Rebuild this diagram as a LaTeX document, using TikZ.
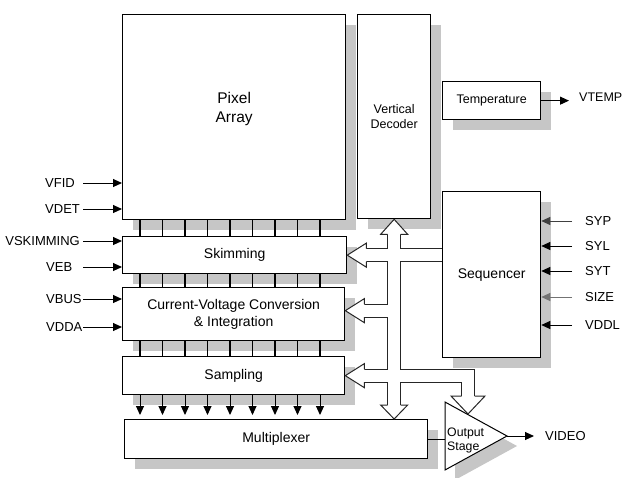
\documentclass[tikz,border=0pt]{standalone}
\usepackage{fontspec}
\setmainfont{Liberation Sans}
\usetikzlibrary{positioning, calc, arrows.meta, shadows}
\tikzset{
  blk/.style={draw, line width=1.3pt, fill=white, anchor=north west, align=center,
    inner sep=0pt, font=\fontsize{14}{17}\selectfont,
    general shadow={fill=gray!45, shadow xshift=10pt, shadow yshift=-10pt}},
  lbl/.style={inner sep=0pt, font=\fontsize{13}{15}\selectfont},
  sig/.style={line width=1pt, -{Triangle[length=9pt,width=8pt]}},
  tie/.style={line width=1.1pt},
  hollow/.style={fill=white, draw=black!85, line width=1pt},
}

\begin{document}
\begin{tikzpicture}[x=1pt, y=-1pt]
            \useasboundingbox (0,0) rectangle (624,477);

            % Blocks
            \node[blk, minimum width=223pt, minimum height=205pt, font=\fontsize{15.5}{19}\selectfont] (pixel) at (122,14) {Pixel\\Array\\~};
            \node[blk, minimum width=73pt, minimum height=204pt, font=\fontsize{12.5}{15}\selectfont] (vdec) at (357,14) {Vertical\\Decoder};
            \node[blk, minimum width=98pt, minimum height=38pt, font=\fontsize{12.5}{15}\selectfont] (temp) at (442,81) {Temperature};
            \node[blk, minimum width=98pt, minimum height=166pt] (seq) at (442,191) {Sequencer};
            \node[blk, minimum width=224pt, minimum height=37pt] (skim) at (122,236) {Skimming};
            \node[blk, minimum width=222pt, minimum height=53pt] (cvc) at (122,287) {Current-Voltage Conversion\\\& Integration};
            \node[blk, minimum width=222pt, minimum height=38pt] (samp) at (122,356) {Sampling};
            \node[blk, minimum width=303pt, minimum height=39pt] (mux) at (124,419) {Multiplexer};

            % Output Stage
            \coordinate (os-nw) at (445,402);
            \coordinate (os-sw) at (445,470);
            \coordinate (os-tip) at (507,436);
            \fill[gray!45] ($(os-nw)+(10,10)$) -- ($(os-sw)+(10,10)$) -- ($(os-tip)+(10,10)$) -- cycle;
            \filldraw[fill=white, line width=1pt] (os-nw) -- (os-sw) -- (os-tip) -- cycle;
            \node[anchor=west, align=left, inner sep=0pt, font=\fontsize{12.3}{14}\selectfont] (ostxt) at (447,440) {Output\\Stage};
            \draw[tie] (mux.east) -- (mux.east -| os-nw);

            % Column lines between blocks
            \foreach \i [evaluate=\i as \x using 140+22.5*\i] in {0,...,8} {
                \draw[tie] (\x,0 |- pixel.south) -- (\x,0 |- skim.north);
                \draw[tie] (\x,0 |- skim.south) -- (\x,0 |- cvc.north);
                \draw[tie] (\x,0 |- cvc.south) -- (\x,0 |- samp.north);
                \draw[sig, shorten >=4pt] (\x,0 |- samp.south) -- (\x,0 |- mux.north);
            }

            % Left inputs
            \coordinate (lin) at (83,0);
            \node[lbl, anchor=west] (vfid) at (45,183) {VFID};
            \node[lbl, anchor=west] (vdet) at (45,209) {VDET};
            \node[lbl, anchor=east] (vskim) at (80,241) {VSKIMMING};
            \node[lbl, anchor=west] (veb) at (46,267) {VEB};
            \node[lbl, anchor=west] (vbus) at (46,299) {VBUS};
            \node[lbl, anchor=west] (vdda) at (46,327) {VDDA};
            \draw[sig] (vfid -| lin) -- (vfid -| pixel.west);
            \draw[sig] (vdet -| lin) -- (vdet -| pixel.west);
            \draw[sig] (vskim -| lin) -- (vskim -| skim.west);
            \draw[sig] (veb -| lin) -- (veb -| skim.west);
            \draw[sig] (vbus -| lin) -- (vbus -| cvc.west);
            \draw[sig] (vdda -| lin) -- (vdda -| cvc.west);

            % Sequencer inputs
            \coordinate (rin) at (572,0);
            \node[lbl, anchor=west] (syp) at (585,221) {SYP};
            \node[lbl, anchor=west] (syl) at (585,246) {SYL};
            \node[lbl, anchor=west] (syt) at (585,271) {SYT};
            \node[lbl, anchor=west] (size) at (585,297) {SIZE};
            \node[lbl, anchor=west] (vddl) at (585,325) {VDDL};
            \draw[sig, black!75] (syp -| rin) -- (syp -| seq.east);
            \draw[sig] (syl -| rin) -- (syl -| seq.east);
            \draw[sig] (syt -| rin) -- (syt -| seq.east);
            \draw[sig, black!55] (size -| rin) -- (size -| seq.east);
            \draw[sig] (vddl -| rin) -- (vddl -| seq.east);

            % Outputs
            \node[lbl, anchor=west, font=\fontsize{12.5}{15}\selectfont] (vtemp) at (579,97) {VTEMP};
            \draw[sig, shorten >=10pt] (temp.east) -- (temp.east -| vtemp.west);
            \node[lbl, anchor=west] (video) at (545,436) {VIDEO};
            \draw[sig, shorten >=11pt] (os-tip) -- (os-tip -| video.west);

            % Control bus
            \coordinate (bus-top) at ($(vdec.south)+(0,15)$);
            \coordinate (bus-bot) at ($(mux.north -| vdec.south)+(0,-14)$);
            \coordinate (skim-base) at ($(skim.east)+(19,0)$);
            \coordinate (cvc-base) at ($(cvc.east)+(19,-3.5)$);
            \coordinate (samp-base) at ($(samp.east)+(19,0)$);
            \coordinate (os-base) at ($(os-nw)+(23,-6)$);
            \foreach \w/\c in {14/black!85, 12/white} {
                \draw[line width=\w pt, \c] (bus-top) -- (bus-bot);
                \draw[line width=\w pt, \c] (seq.west |- skim-base) -- (skim-base);
                \draw[line width=\w pt, \c] (bus-top |- cvc-base) -- (cvc-base);
                \draw[line width=\w pt, \c, line join=miter] (samp-base) -- (os-base |- samp-base) -- (os-base);
            }

            % Hollow arrow heads
            \filldraw[hollow] ($(bus-top)+(-6.5,0)$) -- ($(bus-top)+(-13.5,0)$) -- (vdec.south) -- ($(bus-top)+(13.5,0)$) -- ($(bus-top)+(6.5,0)$);
            \filldraw[hollow] ($(bus-bot)+(-6.5,0)$) -- ($(bus-bot)+(-13.5,0)$) -- (mux.north -| bus-bot) -- ($(bus-bot)+(13.5,0)$) -- ($(bus-bot)+(6.5,0)$);
            \filldraw[hollow] ($(skim-base)+(0,-6.5)$) -- ($(skim-base)+(0,-12)$) -- (skim.east) -- ($(skim-base)+(0,12)$) -- ($(skim-base)+(0,6.5)$);
            \filldraw[hollow] ($(cvc-base)+(0,-6.5)$) -- ($(cvc-base)+(0,-12)$) -- (cvc.east |- cvc-base) -- ($(cvc-base)+(0,12)$) -- ($(cvc-base)+(0,6.5)$);
            \filldraw[hollow] ($(samp-base)+(0,-6.5)$) -- ($(samp-base)+(0,-12)$) -- (samp.east) -- ($(samp-base)+(0,12)$) -- ($(samp-base)+(0,6.5)$);
            \filldraw[hollow] ($(os-base)+(-6.5,0)$) -- ($(os-base)+(-17,0)$) -- ($(os-base)+(0,18)$) -- ($(os-base)+(17,0)$) -- ($(os-base)+(6.5,0)$);
\end{tikzpicture}
\end{document}
